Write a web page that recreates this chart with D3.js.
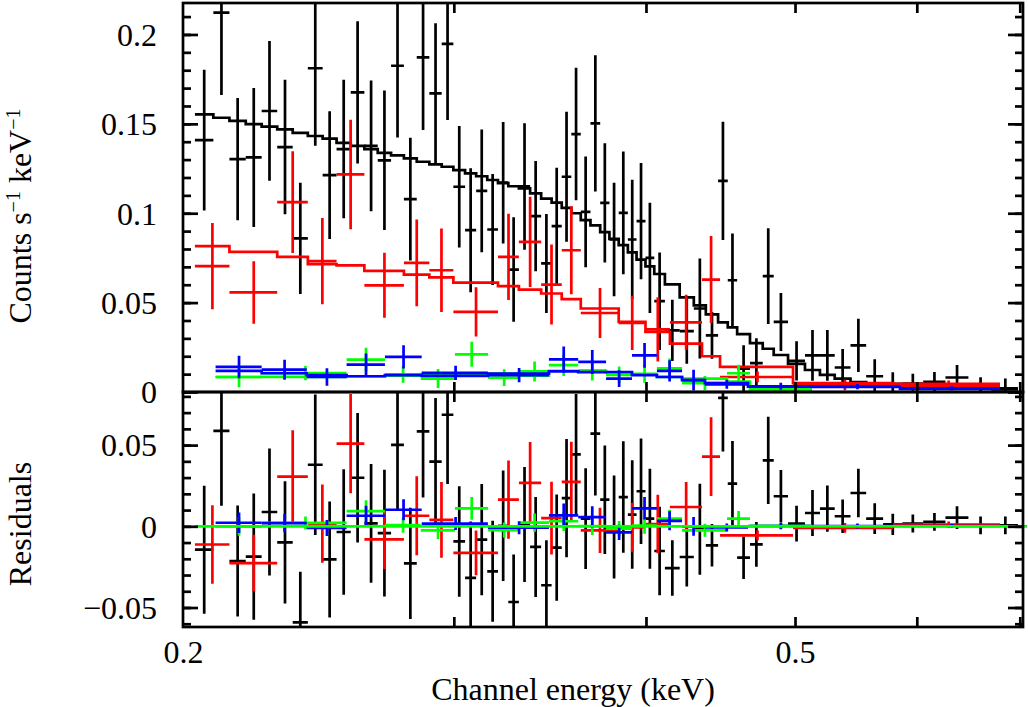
<!DOCTYPE html>
<html><head><meta charset="utf-8">
<script src="https://cdn.jsdelivr.net/npm/d3@7"></script>
<style>body{margin:0;background:#fff}svg{display:block}</style>
</head><body>
<svg id="c" width="1028" height="707"></svg>
<script>
// ---------- DATA (energies in keV, rates in counts s^-1 keV^-1) ----------
const blackEdges = [0.2036,0.2093,0.2144,0.2197,0.2250,0.2303,0.2357,0.2411,0.2465,0.2517,0.2571,0.2624,0.2677,0.2731,0.2784,0.2838,0.2892,0.2946,0.2998,0.3051,0.3102,0.3154,0.3205,0.3255,0.3307,0.3363,0.3419,0.3473,0.3526,0.3577,0.3628,0.3681,0.3735,0.3787,0.3840,0.3893,0.3944,0.3997,0.4050,0.4115,0.4207,0.4297,0.4375,0.4456,0.4521,0.4585,0.4674,0.4764,0.4843,0.4948,0.5075,0.5190,0.5306,0.5433,0.5562,0.5705,0.5871,0.6058,0.6263,0.6482,0.6720,0.6981];
const blackVal = [0.1409,0.2122,0.1303,0.1312,0.1572,0.1370,0.0859,0.1811,0.1213,0.1359,0.1676,0.1377,0.1296,0.1825,0.1079,0.1872,0.1671,0.1947,0.1148,0.0905,0.1125,0.0909,0.1171,0.0685,0.1150,0.0984,0.0719,0.0928,0.1204,0.1443,0.1008,0.1503,0.1058,0.0853,0.1002,0.0853,0.0956,0.0750,0.0508,0.0345,0.0340,0.0467,0.0317,0.1181,0.0625,0.0131,0.0162,0.0648,0.0392,0.0174,0.0205,0.0205,0.0137,0.0261,0.0088,0.0045,0.0047,0.0057,0.0081,0.0028,0.0021];
const blackErr = [0.0394,0.0461,0.0342,0.0389,0.0391,0.0376,0.0311,0.0433,0.0357,0.0387,0.0398,0.0366,0.0390,0.0401,0.0343,0.0407,0.0392,0.0426,0.0340,0.0347,0.0343,0.0311,0.0340,0.0292,0.0354,0.0308,0.0277,0.0327,0.0364,0.0371,0.0310,0.0381,0.0334,0.0317,0.0343,0.0334,0.0325,0.0308,0.0273,0.0171,0.0182,0.0280,0.0131,0.0331,0.0262,0.0131,0.0138,0.0268,0.0162,0.0110,0.0142,0.0142,0.0103,0.0149,0.0095,0.0065,0.0055,0.0055,0.0070,0.0055,0.0055];
const blackModel = [0.1553,0.1534,0.1517,0.1499,0.1484,0.1469,0.1450,0.1432,0.1417,0.1394,0.1377,0.1359,0.1338,0.1324,0.1307,0.1288,0.1273,0.1260,0.1241,0.1223,0.1207,0.1186,0.1168,0.1151,0.1139,0.1111,0.1082,0.1059,0.1030,0.1000,0.0961,0.0932,0.0894,0.0857,0.0822,0.0781,0.0740,0.0703,0.0660,0.0602,0.0529,0.0485,0.0434,0.0390,0.0362,0.0324,0.0273,0.0242,0.0207,0.0157,0.0123,0.0096,0.0075,0.0056,0.0041,0.0033,0.0030,0.0030,0.0028,0.0022,0.0015];

const redEdges = [0.2036,0.2144,0.2303,0.2411,0.2517,0.2624,0.2784,0.2892,0.2998,0.3205,0.3307,0.3419,0.3526,0.3628,0.3840,0.3997,0.4146,0.4350,0.4469,0.4985,0.5790,0.6796];
const redVal = [0.0704,0.0557,0.1062,0.0732,0.1217,0.0597,0.0722,0.0681,0.0448,0.0756,0.0840,0.0601,0.0793,0.0442,0.0386,0.0350,0.0390,0.0629,0.0084,0.0040,0.0045];
const redErr = [0.0241,0.0175,0.0285,0.0241,0.0306,0.0182,0.0243,0.0233,0.0138,0.0241,0.0252,0.0224,0.0246,0.0140,0.0151,0.0180,0.0154,0.0243,0.0030,0.0030,0.0020];
const redModel = [0.0816,0.0784,0.0756,0.0715,0.0708,0.0678,0.0657,0.0641,0.0612,0.0592,0.0573,0.0551,0.0519,0.0467,0.0392,0.0336,0.0271,0.0200,0.0140,0.0050,0.0035];

const greenEdges = [0.2100,0.2250,0.2555,0.2706,0.2855,0.3005,0.3158,0.3312,0.3459,0.3614,0.3768,0.3917,0.4066,0.4222,0.4516,0.4674,0.5129];
const greenVal = [0.0084,0.0106,0.0181,0.0099,0.0075,0.0211,0.0080,0.0115,0.0150,0.0120,0.0096,0.0102,0.0132,0.0050,0.0105,0.0015];
const greenErr = [0.0058,0.0040,0.0067,0.0047,0.0053,0.0070,0.0047,0.0056,0.0060,0.0055,0.0047,0.0050,0.0055,0.0040,0.0047,0.0015];
const greenModel = [0.0084,0.0085,0.0088,0.0092,0.0100,0.0100,0.0103,0.0092,0.0119,0.0118,0.0110,0.0098,0.0085,0.0075,0.0058,0.0012];

const blueEdges = [0.2100,0.2250,0.2407,0.2555,0.2706,0.2859,0.3157,0.3459,0.3614,0.3768,0.3917,0.4066,0.4222,0.4369,0.4660,0.5129,0.5851,0.6796];
const blueVal = [0.0140,0.0125,0.0084,0.0153,0.0196,0.0107,0.0094,0.0182,0.0168,0.0075,0.0205,0.0118,0.0066,0.0043,0.0032,0.0030,0.0020];
const blueErr = [0.0063,0.0056,0.0049,0.0062,0.0065,0.0040,0.0040,0.0073,0.0067,0.0047,0.0069,0.0059,0.0058,0.0025,0.0020,0.0015,0.0012];
const blueModel = [0.0118,0.0105,0.0094,0.0088,0.0094,0.0090,0.0103,0.0115,0.0111,0.0112,0.0094,0.0084,0.0066,0.0050,0.0030,0.0028,0.0018];

const xTicks = [0.2,0.3,0.4,0.5,0.6,0.7];
const xTickLabels = {0.2:"0.2", 0.5:"0.5"};
const yTopMajor = [0,0.05,0.1,0.15,0.2];
const yTopLabels = ["0","0.05","0.1","0.15","0.2"];
const yResMajor = [-0.05,0,0.05];
const yResLabels = ["\u22120.05","0","0.05"];
const xTitle = "Channel energy (keV)";
const resTitle = "Residuals";

// ---------- LAYOUT ----------
const L = 183, R = 1023, T = 3, M = 392, B = 627;
const FONT = '"Liberation Serif","Times New Roman",Times,serif';
const LW = 2.7;

const svg = d3.select("#c");
const x = d3.scaleLog().domain([0.2, 0.7034]).range([L, R]);
const yTop = d3.scaleLinear().domain([0, 0.2176]).range([M, T]);
const yRes = d3.scaleLinear().domain([-0.062, 0.0827]).range([B, M]);

const defs = svg.append("defs");
defs.append("clipPath").attr("id","clipTop").append("rect").attr("x",L).attr("y",T).attr("width",R-L).attr("height",M-T);
defs.append("clipPath").attr("id","clipRes").append("rect").attr("x",L).attr("y",M).attr("width",R-L+6).attr("height",B-M);

const series = [
  {color:"#000000", edges:blackEdges, val:blackVal, err:blackErr, model:blackModel},
  {color:"#ff0000", edges:redEdges, val:redVal, err:redErr, model:redModel},
  {color:"#00ff00", edges:greenEdges, val:greenVal, err:greenErr, model:greenModel},
  {color:"#0000ff", edges:blueEdges, val:blueVal, err:blueErr, model:blueModel}
];

function bins(s){
  return s.val.map((v,i)=>({lo:s.edges[i], hi:s.edges[i+1], c:(s.edges[i]+s.edges[i+1])/2, v, e:s.err[i], m:s.model[i]}));
}
function crossPath(d, y, v){
  return `M${x(d.lo)},${y(v)}H${x(d.hi)}M${x(d.c)},${y(v-d.e)}V${y(v+d.e)}`;
}
function stepPath(bs, y){
  let p = "";
  bs.forEach((d,i)=>{ p += (i===0?"M":"L")+x(d.lo)+","+y(d.m)+"L"+x(d.hi)+","+y(d.m); });
  return p;
}

const gTop = svg.append("g").attr("clip-path","url(#clipTop)");
const gRes = svg.append("g").attr("clip-path","url(#clipRes)");

series.forEach(s=>{
  const bs = bins(s);
  gTop.append("g").selectAll("path").data(bs).join("path")
    .attr("d", d=>crossPath(d, yTop, d.v))
    .attr("fill","none").attr("stroke",s.color).attr("stroke-width",LW);
  gTop.append("path").attr("d", stepPath(bs, yTop))
    .attr("fill","none").attr("stroke",s.color).attr("stroke-width",LW).attr("stroke-linejoin","miter");
  gRes.append("g").selectAll("path").data(bs).join("path")
    .attr("d", d=>crossPath(d, yRes, d.v - d.m))
    .attr("fill","none").attr("stroke",s.color).attr("stroke-width",LW);
});
// zero line in residual panel
gRes.append("line").attr("x1", x(blackEdges[0])).attr("x2", R+4)
  .attr("y1", yRes(0)).attr("y2", yRes(0))
  .attr("stroke","#00ff00").attr("stroke-width",LW);

// ---------- AXES ----------
function styleAxis(g){
  g.select(".domain").remove();
  g.selectAll(".tick line").attr("stroke","#000").attr("stroke-width",LW);
  g.selectAll("text").attr("fill","#000").style("font-family",FONT).style("font-size","32px");
}
const minorTop = d3.range(0, 0.2176, 0.01);
const minorRes = d3.range(-0.06, 0.083, 0.01);

// left axes
svg.append("g").attr("transform",`translate(${L},0)`)
  .call(d3.axisLeft(yTop).tickValues(minorTop).tickSize(-8).tickFormat(""))
  .call(styleAxis);
svg.append("g").attr("transform",`translate(${L},0)`)
  .call(d3.axisLeft(yTop).tickValues(yTopMajor).tickSize(-15).tickPadding(26).tickFormat((d,i)=>yTopLabels[i]))
  .call(styleAxis).call(g=>g.selectAll("text").attr("dy","0.34em"));
svg.append("g").attr("transform",`translate(${L},0)`)
  .call(d3.axisLeft(yRes).tickValues(minorRes).tickSize(-8).tickFormat(""))
  .call(styleAxis);
svg.append("g").attr("transform",`translate(${L},0)`)
  .call(d3.axisLeft(yRes).tickValues(yResMajor).tickSize(-15).tickPadding(26).tickFormat((d,i)=>yResLabels[i]))
  .call(styleAxis).call(g=>g.selectAll("text").attr("dy","0.34em"));
// right axes
svg.append("g").attr("transform",`translate(${R},0)`)
  .call(d3.axisRight(yTop).tickValues(minorTop).tickSize(-8).tickFormat("")).call(styleAxis);
svg.append("g").attr("transform",`translate(${R},0)`)
  .call(d3.axisRight(yTop).tickValues(yTopMajor).tickSize(-15).tickFormat("")).call(styleAxis);
svg.append("g").attr("transform",`translate(${R},0)`)
  .call(d3.axisRight(yRes).tickValues(minorRes).tickSize(-8).tickFormat("")).call(styleAxis);
svg.append("g").attr("transform",`translate(${R},0)`)
  .call(d3.axisRight(yRes).tickValues(yResMajor).tickSize(-15).tickFormat("")).call(styleAxis);
// x axes
const xt = xTicks.filter(v=>v>0.2);
svg.append("g").attr("transform",`translate(0,${T})`)
  .call(d3.axisTop(x).tickValues(xt).tickSize(-10).tickFormat("")).call(styleAxis);
svg.append("g").attr("transform",`translate(0,${M})`)
  .call(d3.axisBottom(x).tickValues(xt).tickSize(-10).tickFormat("")).call(styleAxis);
svg.append("g").attr("transform",`translate(0,${M})`)
  .call(d3.axisTop(x).tickValues(xt).tickSize(-10).tickFormat("")).call(styleAxis);
svg.append("g").attr("transform",`translate(0,${B})`)
  .call(d3.axisBottom(x).tickValues(xTicks).tickSize(-10).tickPadding(13)
    .tickFormat(d=>xTickLabels[d]||"")).call(styleAxis)
  .call(g=>g.selectAll(".tick").filter(d=>d===0.2).select("line").remove());

// frames
svg.append("rect").attr("x",L).attr("y",T).attr("width",R-L).attr("height",M-T)
  .attr("fill","none").attr("stroke","#000").attr("stroke-width",LW);
svg.append("rect").attr("x",L).attr("y",M).attr("width",R-L).attr("height",B-M)
  .attr("fill","none").attr("stroke","#000").attr("stroke-width",LW);

// titles
svg.append("text").attr("x",573).attr("y",700).attr("text-anchor","middle")
  .style("font-family",FONT).style("font-size","32px").text(xTitle);
svg.append("text").attr("transform","translate(31,524) rotate(-90)").attr("text-anchor","middle")
  .style("font-family",FONT).style("font-size","32px").text(resTitle);
const yl = svg.append("text").attr("transform","translate(31,216) rotate(-90)").attr("text-anchor","middle")
  .style("font-family",FONT).style("font-size","32px");
yl.append("tspan").text("Counts s");
yl.append("tspan").attr("dy",-11).style("font-size","20px").text("\u22121");
yl.append("tspan").attr("dy",11).text(" keV");
yl.append("tspan").attr("dy",-11).style("font-size","20px").text("\u22121");
</script>
</body></html>
